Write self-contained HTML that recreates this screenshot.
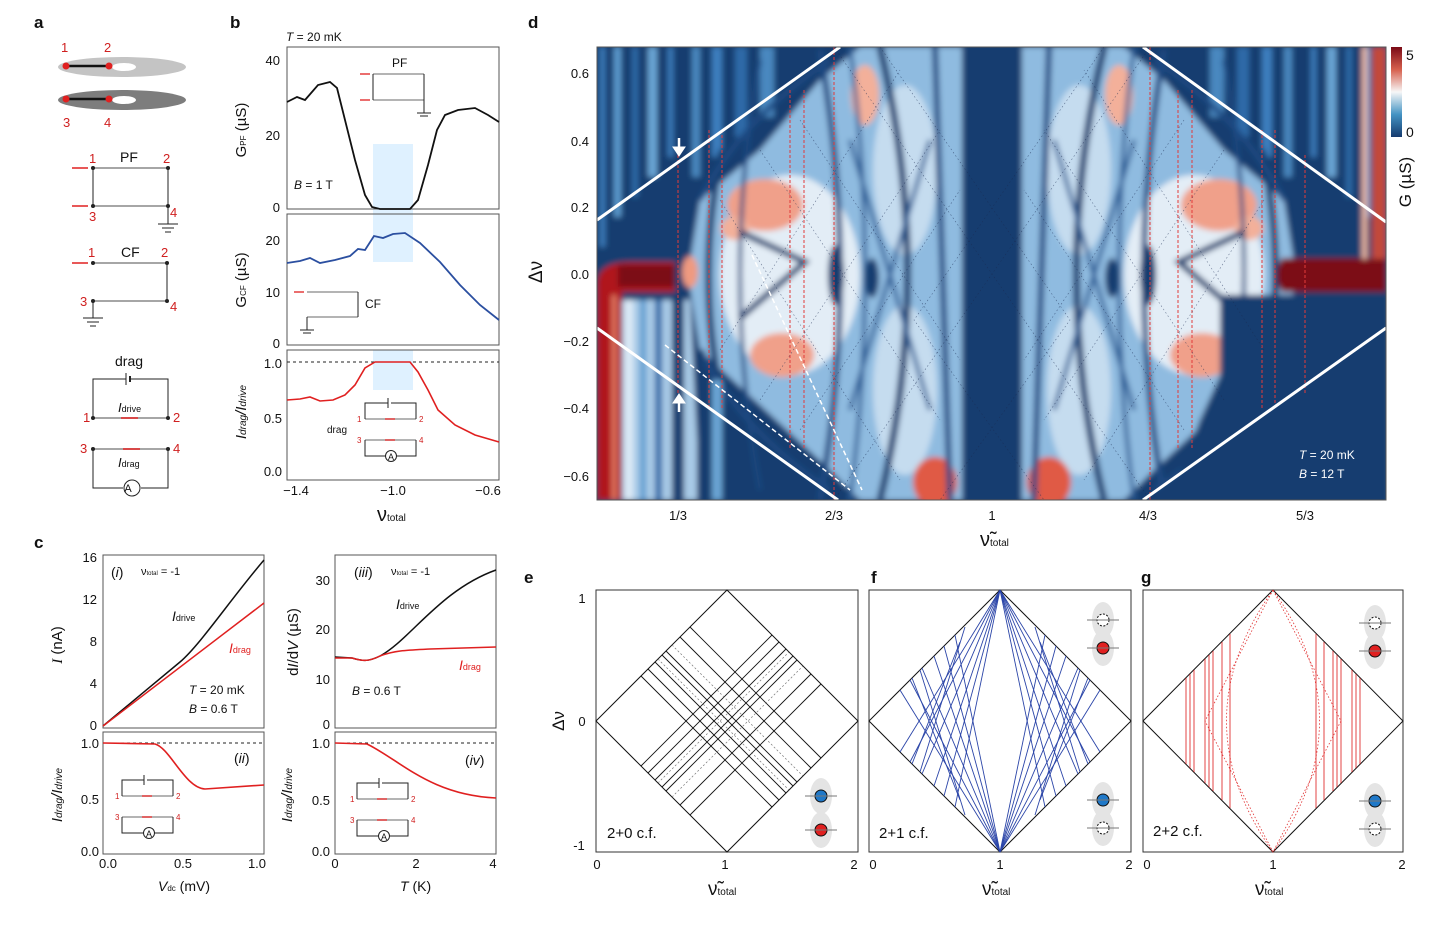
<!DOCTYPE html>
<html><head><meta charset="utf-8"><style>
html,body{margin:0;padding:0;background:#fff}
svg{display:block}
text{font-family:"Liberation Sans",sans-serif;fill:#111}
</style></head><body>
<svg width="1447" height="928" viewBox="0 0 1447 928" xmlns="http://www.w3.org/2000/svg">
<defs>
<filter id="bl" x="-5%" y="-5%" width="110%" height="110%"><feGaussianBlur stdDeviation="3"/></filter>
<clipPath id="cd"><rect x="597" y="47" width="789" height="453"/></clipPath>
<linearGradient id="cb" x1="0" y1="0" x2="0" y2="1">
<stop offset="0" stop-color="#7a0a16"/><stop offset="0.25" stop-color="#d6604d"/><stop offset="0.5" stop-color="#f7f7f7"/><stop offset="0.75" stop-color="#4393c3"/><stop offset="1" stop-color="#153a6e"/></linearGradient>
<g id="lefthalf">
  <rect x="600" y="47" width="5" height="200" fill="#3d7fbf"/>
  <rect x="614" y="47" width="7" height="170" fill="#5b9bd0"/>
  <rect x="632" y="47" width="6" height="150" fill="#2e6aa8"/>
  <rect x="648" y="47" width="9" height="130" fill="#6aa6d6"/>
  <rect x="668" y="47" width="5" height="110" fill="#3d7fbf"/>
  <rect x="692" y="47" width="8" height="130" fill="#4a88c0"/>
  <rect x="712" y="47" width="10" height="110" fill="#3d7fbf"/>
  <rect x="735" y="47" width="12" height="90" fill="#2e6aa8"/>
  <rect x="760" y="47" width="14" height="70" fill="#4a88c0"/>
  <polygon points="700,200 760,150 820,80 860,47 962,47 962,500 860,500 830,470 760,405 700,350 688,275" fill="#8fbbe0"/>
  <ellipse cx="790" cy="275" rx="70" ry="100" fill="#e3edf6"/>
  <ellipse cx="905" cy="170" rx="32" ry="85" fill="#c5dcef"/>
  <ellipse cx="905" cy="390" rx="32" ry="85" fill="#c5dcef"/>
  <ellipse cx="765" cy="205" rx="38" ry="26" fill="#f0a08a"/>
  <ellipse cx="735" cy="228" rx="14" ry="12" fill="#f3b09a"/>
  <ellipse cx="782" cy="355" rx="32" ry="22" fill="#f0a08a"/>
  <ellipse cx="865" cy="95" rx="14" ry="30" fill="#f3b09a"/>
  <ellipse cx="935" cy="482" rx="22" ry="25" fill="#e05a45"/>
  <path d="M722,150 Q695,275 722,400" stroke="#163c6f" stroke-width="7" fill="none"/>
  <path d="M760,60 Q720,275 760,490" stroke="#1d4a82" stroke-width="4" fill="none"/>
  <path d="M820,50 Q860,275 820,500" stroke="#1d4a82" stroke-width="6" fill="none"/>
  <path d="M850,47 Q880,275 850,500" stroke="#2a5d96" stroke-width="4" fill="none"/>
  <path d="M880,47 Q935,275 880,500" stroke="#163c6f" stroke-width="7" fill="none"/>
  <path d="M935,47 L950,500" stroke="#1d4a82" stroke-width="6" fill="none"/>
  <path d="M850,140 L930,410 M850,410 L930,140" stroke="#2a5d96" stroke-width="4" fill="none"/>
  <ellipse cx="836" cy="275" rx="8" ry="30" fill="#163c6f"/>
  <ellipse cx="872" cy="278" rx="7" ry="20" fill="#163c6f"/>
  <path d="M740,232 L805,262 L740,318" stroke="#163c6f" stroke-width="6" fill="none"/>
  <path d="M700,200 Q740,120 830,60" stroke="#1d4a82" stroke-width="5" fill="none"/>
  <path d="M700,350 Q740,430 830,490" stroke="#1d4a82" stroke-width="5" fill="none"/>
</g>
</defs>

<!-- panel labels -->
<g font-weight="bold" font-size="17">
<text x="34" y="28">a</text><text x="230" y="28">b</text><text x="528" y="28">d</text>
<text x="34" y="548">c</text><text x="524" y="583">e</text><text x="871" y="583">f</text><text x="1141" y="583">g</text></g>

<!-- PANEL A -->
<ellipse cx="122" cy="67" rx="64" ry="10" fill="#c4c4c4"/><ellipse cx="124" cy="67" rx="12" ry="4" fill="#fff"/>
<ellipse cx="122" cy="100" rx="64" ry="10" fill="#7d7d7d"/><ellipse cx="124" cy="100" rx="12" ry="4" fill="#fff"/>
<line x1="66" y1="66" x2="109" y2="66" stroke="#111" stroke-width="2.5"/><line x1="66" y1="99" x2="109" y2="99" stroke="#111" stroke-width="2.5"/>
<g fill="#e02020"><circle cx="66" cy="66" r="3.5"/><circle cx="109" cy="66" r="3.5"/><circle cx="66" cy="99" r="3.5"/><circle cx="109" cy="99" r="3.5"/></g>
<g font-size="13">
<text x="61" y="52" style="fill:#d02020">1</text><text x="104" y="52" style="fill:#d02020">2</text><text x="63" y="127" style="fill:#d02020">3</text><text x="104" y="127" style="fill:#d02020">4</text>
<text x="89" y="163" style="fill:#d02020">1</text><text x="163" y="163" style="fill:#d02020">2</text><text x="89" y="221" style="fill:#d02020">3</text><text x="170" y="217" style="fill:#d02020">4</text>
<text x="88" y="257" style="fill:#d02020">1</text><text x="161" y="257" style="fill:#d02020">2</text><text x="80" y="306" style="fill:#d02020">3</text><text x="170" y="311" style="fill:#d02020">4</text>
<text x="83" y="422" style="fill:#d02020">1</text><text x="173" y="422" style="fill:#d02020">2</text><text x="80" y="453" style="fill:#d02020">3</text><text x="173" y="453" style="fill:#d02020">4</text></g>
<g stroke="#888" stroke-width="1.5" fill="none">
<line x1="93" y1="168" x2="168" y2="168"/><line x1="93" y1="206" x2="168" y2="206"/>
<line x1="93" y1="263" x2="167" y2="263"/><line x1="93" y1="301" x2="167" y2="301"/>
<line x1="93" y1="418" x2="168" y2="418"/><line x1="93" y1="449" x2="168" y2="449"/></g>
<g stroke="#222" stroke-width="1" fill="none">
<line x1="93" y1="168" x2="93" y2="206"/><line x1="168" y1="168" x2="168" y2="224"/><line x1="158" y1="224" x2="178" y2="224"/><line x1="162" y1="228" x2="174" y2="228"/><line x1="165" y1="232" x2="171" y2="232"/>
<line x1="167" y1="263" x2="167" y2="301"/><line x1="93" y1="301" x2="93" y2="318"/><line x1="83" y1="318" x2="103" y2="318"/><line x1="87" y1="322" x2="99" y2="322"/><line x1="90" y1="326" x2="96" y2="326"/>
<path d="M93,418 V379 H126 M130,379 H168 V418"/><line x1="126" y1="373" x2="126" y2="385"/><line x1="130" y1="376" x2="130" y2="382" stroke-width="2"/>
<path d="M93,449 V488 H123 M141,488 H168 V449"/><circle cx="132" cy="488" r="8"/></g>
<text x="128" y="492" font-size="11" text-anchor="middle">A</text>
<g fill="#222"><circle cx="93" cy="168" r="2"/><circle cx="168" cy="168" r="2"/><circle cx="93" cy="206" r="2"/><circle cx="168" cy="206" r="2"/><circle cx="93" cy="263" r="2"/><circle cx="167" cy="263" r="2"/><circle cx="93" cy="301" r="2"/><circle cx="167" cy="301" r="2"/><circle cx="93" cy="418" r="2"/><circle cx="168" cy="418" r="2"/><circle cx="93" cy="449" r="2"/><circle cx="168" cy="449" r="2"/></g>
<g stroke="#e02020" stroke-width="1.5"><line x1="72" y1="168" x2="88" y2="168"/><line x1="72" y1="206" x2="88" y2="206"/><line x1="72" y1="263" x2="88" y2="263"/><line x1="121" y1="418" x2="138" y2="418"/><line x1="123" y1="449" x2="140" y2="449"/></g>
<text x="120" y="162" font-size="14">PF</text><text x="121" y="257" font-size="14">CF</text><text x="115" y="366" font-size="14">drag</text>
<text x="118" y="412" font-size="13" font-style="italic" font-family="Liberation Serif">I<tspan font-size="9" font-style="normal" font-family="Liberation Sans">drive</tspan></text>
<text x="118" y="467" font-size="13" font-style="italic" font-family="Liberation Serif">I<tspan font-size="9" font-style="normal" font-family="Liberation Sans">drag</tspan></text>

<!-- PANEL B -->
<text x="286" y="41" font-size="12"><tspan font-style="italic">T</tspan> = 20 mK</text>
<rect x="373" y="144" width="40" height="118" fill="#dcefff" opacity="0.9"/>
<rect x="373" y="350" width="40" height="40" fill="#dcefff" opacity="0.9"/>
<g stroke="#555" fill="none" stroke-width="1"><rect x="287" y="47" width="212" height="162"/><rect x="287" y="214" width="212" height="131"/><rect x="287" y="350" width="212" height="130"/></g>
<line x1="287" y1="362" x2="499" y2="362" stroke="#222" stroke-dasharray="3,3"/>
<g font-size="13" text-anchor="end"><text x="280" y="65">40</text><text x="280" y="140">20</text><text x="280" y="212">0</text>
<text x="280" y="245">20</text><text x="280" y="297">10</text><text x="280" y="348">0</text>
<text x="282" y="368">1.0</text><text x="282" y="423">0.5</text><text x="282" y="476">0.0</text></g>
<g font-size="13" text-anchor="middle"><text x="296" y="495">−1.4</text><text x="393" y="495">−1.0</text><text x="488" y="495">−0.6</text></g>
<text x="377" y="521" font-size="20" font-family="Liberation Serif">ν<tspan font-size="10" font-family="Liberation Sans">total</tspan></text>
<text transform="translate(246,130) rotate(-90)" font-size="15" text-anchor="middle">G<tspan font-size="8">PF</tspan> (µS)</text>
<text transform="translate(246,280) rotate(-90)" font-size="15" text-anchor="middle">G<tspan font-size="8">CF</tspan> (µS)</text>
<text transform="translate(246,412) rotate(-90)" font-size="15" text-anchor="middle" font-style="italic" font-family="Liberation Serif">I<tspan font-size="10">drag</tspan>/I<tspan font-size="10">drive</tspan></text>
<text x="294" y="189" font-size="12"><tspan font-style="italic">B</tspan> = 1 T</text>
<polyline fill="none" stroke="#111" stroke-width="1.8" points="287,102 297,97 305,100 318,85 330,82 337,88 345,120 355,160 365,195 372,207 380,209 410,209 418,200 428,165 437,130 445,115 458,110 475,108 488,115 499,122"/>
<polyline fill="none" stroke="#2b4fa0" stroke-width="1.8" points="287,263 300,261 310,258 320,263 335,260 350,256 358,249 365,250 374,236 383,238 393,234 405,233 420,243 440,262 460,285 480,305 499,320"/>
<polyline fill="none" stroke="#e02020" stroke-width="1.6" points="287,400 300,399 310,397 320,401 333,400 345,395 355,385 365,368 375,362 410,362 418,372 428,390 438,410 455,425 475,435 499,442"/>
<g stroke="#888" stroke-width="1.2" fill="none"><line x1="373" y1="74" x2="424" y2="74"/><line x1="373" y1="100" x2="424" y2="100"/><line x1="307" y1="292" x2="358" y2="292"/><line x1="307" y1="317" x2="358" y2="317"/><line x1="365" y1="419" x2="416" y2="419"/><line x1="365" y1="440" x2="416" y2="440"/></g>
<g stroke="#222" fill="none"><line x1="373" y1="74" x2="373" y2="100"/><line x1="424" y1="74" x2="424" y2="113"/><line x1="417" y1="113" x2="431" y2="113"/><line x1="420" y1="116" x2="428" y2="116"/>
<line x1="358" y1="292" x2="358" y2="317"/><line x1="307" y1="317" x2="307" y2="330"/><line x1="300" y1="330" x2="314" y2="330"/><line x1="303" y1="333" x2="311" y2="333"/>
<path d="M365,419 V403 H388 M391,403 H416 V419"/><line x1="388" y1="398" x2="388" y2="408"/><path d="M365,440 V456 H386 M397,456 H416 V440"/><circle cx="391" cy="456" r="5.5"/></g>
<text x="391" y="460" font-size="9" text-anchor="middle">A</text>
<g stroke="#e02020" stroke-width="1.3"><line x1="360" y1="74" x2="370" y2="74"/><line x1="360" y1="100" x2="370" y2="100"/><line x1="294" y1="292" x2="304" y2="292"/><line x1="385" y1="419" x2="395" y2="419"/><line x1="385" y1="440" x2="395" y2="440"/></g>
<text x="392" y="67" font-size="12">PF</text><text x="365" y="308" font-size="12">CF</text><text x="327" y="433" font-size="10">drag</text>
<g font-size="8"><text x="357" y="422" style="fill:#d02020">1</text><text x="419" y="422" style="fill:#d02020">2</text><text x="357" y="443" style="fill:#d02020">3</text><text x="419" y="443" style="fill:#d02020">4</text></g>

<!-- PANEL C -->
<g stroke="#555" fill="none"><rect x="103" y="555" width="161" height="173"/><rect x="103" y="732" width="161" height="122"/><rect x="335" y="555" width="161" height="173"/><rect x="335" y="732" width="161" height="122"/></g>
<line x1="103" y1="743" x2="264" y2="743" stroke="#222" stroke-dasharray="3,3"/><line x1="335" y1="743" x2="496" y2="743" stroke="#222" stroke-dasharray="3,3"/>
<g font-size="13" text-anchor="end"><text x="97" y="562">16</text><text x="97" y="604">12</text><text x="97" y="646">8</text><text x="97" y="688">4</text><text x="97" y="730">0</text>
<text x="99" y="748">1.0</text><text x="99" y="804">0.5</text><text x="99" y="856">0.0</text>
<text x="330" y="585">30</text><text x="330" y="634">20</text><text x="330" y="684">10</text><text x="330" y="729">0</text>
<text x="330" y="748">1.0</text><text x="330" y="805">0.5</text><text x="330" y="856">0.0</text></g>
<g font-size="13" text-anchor="middle"><text x="108" y="868">0.0</text><text x="183" y="868">0.5</text><text x="257" y="868">1.0</text><text x="335" y="868">0</text><text x="416" y="868">2</text><text x="493" y="868">4</text></g>
<text x="158" y="891" font-size="14"><tspan font-style="italic">V</tspan><tspan font-size="8">dc</tspan> (mV)</text>
<text x="400" y="891" font-size="14"><tspan font-style="italic">T</tspan> (K)</text>
<text transform="translate(62,645) rotate(-90)" font-size="15" text-anchor="middle"><tspan font-style="italic" font-family="Liberation Serif">I</tspan> (nA)</text>
<text transform="translate(298,642) rotate(-90)" font-size="15" text-anchor="middle">d<tspan font-style="italic">I</tspan>/d<tspan font-style="italic">V</tspan> (µS)</text>
<text transform="translate(62,795) rotate(-90)" font-size="15" text-anchor="middle" font-style="italic" font-family="Liberation Serif">I<tspan font-size="10">drag</tspan>/I<tspan font-size="10">drive</tspan></text>
<text transform="translate(292,795) rotate(-90)" font-size="15" text-anchor="middle" font-style="italic" font-family="Liberation Serif">I<tspan font-size="10">drag</tspan>/I<tspan font-size="10">drive</tspan></text>
<text x="111" y="577" font-size="14" font-family="Liberation Serif">(<tspan font-style="italic">i</tspan>)</text>
<text x="141" y="575" font-size="11">ν<tspan font-size="6">total</tspan> = -1</text>
<text x="354" y="577" font-size="14" font-family="Liberation Serif">(<tspan font-style="italic">iii</tspan>)</text>
<text x="391" y="575" font-size="11">ν<tspan font-size="6">total</tspan> = -1</text>
<text x="234" y="763" font-size="14" font-family="Liberation Serif">(<tspan font-style="italic">ii</tspan>)</text>
<text x="465" y="765" font-size="14" font-family="Liberation Serif">(<tspan font-style="italic">iv</tspan>)</text>
<text x="189" y="694" font-size="12"><tspan font-style="italic">T</tspan> = 20 mK</text><text x="189" y="713" font-size="12"><tspan font-style="italic">B</tspan> = 0.6 T</text>
<text x="352" y="695" font-size="12"><tspan font-style="italic">B</tspan> = 0.6 T</text>
<text x="172" y="621" font-size="14" font-style="italic" font-family="Liberation Serif">I<tspan font-size="9" font-style="normal" font-family="Liberation Sans">drive</tspan></text>
<text x="229" y="653" font-size="14" font-style="italic" font-family="Liberation Serif" style="fill:#e02020">I<tspan font-size="9" font-style="normal" font-family="Liberation Sans">drag</tspan></text>
<text x="396" y="609" font-size="14" font-style="italic" font-family="Liberation Serif">I<tspan font-size="9" font-style="normal" font-family="Liberation Sans">drive</tspan></text>
<text x="459" y="670" font-size="14" font-style="italic" font-family="Liberation Serif" style="fill:#e02020">I<tspan font-size="9" font-style="normal" font-family="Liberation Sans">drag</tspan></text>
<path d="M103,726 L180,662 C200,645 230,600 264,560" stroke="#111" stroke-width="1.5" fill="none"/>
<path d="M103,726 L264,603" stroke="#e02020" stroke-width="1.5" fill="none"/>
<path d="M103,743 L155,744 C170,748 185,788 205,789 L264,785" stroke="#e02020" stroke-width="1.6" fill="none"/>
<path d="M335,657 L352,658 C362,661 368,662 380,656 C410,640 440,590 496,570" stroke="#111" stroke-width="1.5" fill="none"/>
<path d="M335,658 L352,658 C362,661 368,662 380,656 C395,650 410,650 430,649 L496,647" stroke="#e02020" stroke-width="1.5" fill="none"/>
<path d="M335,743 L367,744 C400,760 430,795 496,798" stroke="#e02020" stroke-width="1.6" fill="none"/>
<g stroke="#888" stroke-width="1.2"><line x1="122" y1="796" x2="173" y2="796"/><line x1="122" y1="817" x2="173" y2="817"/><line x1="357" y1="799" x2="408" y2="799"/><line x1="357" y1="820" x2="408" y2="820"/></g>
<g stroke="#222" fill="none"><path d="M122,796 V780 H144 M147,780 H173 V796"/><line x1="144" y1="775" x2="144" y2="785"/><path d="M122,817 V833 H143 M155,833 H173 V817"/><circle cx="149" cy="833" r="5.5"/>
<path d="M357,799 V783 H379 M382,783 H408 V799"/><line x1="379" y1="778" x2="379" y2="788"/><path d="M357,820 V836 H378 M390,836 H408 V820"/><circle cx="384" cy="836" r="5.5"/></g>
<text x="149" y="837" font-size="9" text-anchor="middle">A</text><text x="384" y="840" font-size="9" text-anchor="middle">A</text>
<g stroke="#e02020" stroke-width="1.3"><line x1="142" y1="796" x2="152" y2="796"/><line x1="142" y1="817" x2="152" y2="817"/><line x1="377" y1="799" x2="387" y2="799"/><line x1="377" y1="820" x2="387" y2="820"/></g>
<g font-size="8"><text x="115" y="799" style="fill:#d02020">1</text><text x="176" y="799" style="fill:#d02020">2</text><text x="115" y="820" style="fill:#d02020">3</text><text x="176" y="820" style="fill:#d02020">4</text>
<text x="350" y="802" style="fill:#d02020">1</text><text x="411" y="802" style="fill:#d02020">2</text><text x="350" y="823" style="fill:#d02020">3</text><text x="411" y="823" style="fill:#d02020">4</text></g>

<!-- PANEL D heatmap -->
<g clip-path="url(#cd)">
<g filter="url(#bl)">
<rect x="590" y="40" width="800" height="470" fill="#163c6f"/>
<use href="#lefthalf"/>
<use href="#lefthalf" transform="translate(1984,0) scale(-1,1)"/>
<polygon points="600,300 690,300 700,500 600,500" fill="#a9cbe7"/>
<rect x="625" y="300" width="8" height="200" fill="#deebf6"/>
<rect x="640" y="300" width="6" height="200" fill="#5b9bd0"/>
<rect x="655" y="300" width="7" height="200" fill="#2e6aa8"/>
<rect x="672" y="300" width="12" height="200" fill="#163c6f"/>
<rect x="697" y="350" width="8" height="150" fill="#163c6f"/>
<rect x="712" y="380" width="10" height="120" fill="#6aa6d6"/>
<path d="M597,500 V285 Q597,262 630,262 H675 V292 H622 V500 Z" fill="#b0141e"/>
<rect x="612" y="295" width="4" height="205" fill="#e8826a"/>
<rect x="618" y="265" width="57" height="22" fill="#7c0a14"/>
<ellipse cx="690" cy="272" rx="8" ry="16" fill="#ef9a80"/>
<polygon points="1143,500 1386,328 1386,300 1250,310 1200,420 1170,500" fill="#163c6f"/>
<rect x="1220" y="295" width="170" height="210" fill="#163c6f"/>
<path d="M1282,258 H1386 V292 H1282 Q1272,275 1282,258Z" fill="#7c0a14"/>
<rect x="1372" y="47" width="14" height="212" fill="#c24a3a"/>
<rect x="1362" y="47" width="5" height="212" fill="#f0b8a0"/>
</g>
<g stroke="#e23a3a" stroke-width="1" stroke-dasharray="3,2">
<line x1="678" y1="155" x2="678" y2="395"/><line x1="709" y1="130" x2="709" y2="410"/><line x1="722" y1="130" x2="722" y2="410"/><line x1="790" y1="90" x2="790" y2="450"/><line x1="804" y1="90" x2="804" y2="450"/><line x1="834" y1="47" x2="834" y2="500"/>
<line x1="1150" y1="47" x2="1150" y2="500"/><line x1="1178" y1="90" x2="1178" y2="450"/><line x1="1192" y1="90" x2="1192" y2="450"/><line x1="1262" y1="130" x2="1262" y2="410"/><line x1="1275" y1="130" x2="1275" y2="410"/><line x1="1305" y1="155" x2="1305" y2="395"/></g>
<g stroke="#1a2a50" stroke-width="0.6" stroke-dasharray="1.5,2.5" fill="none" opacity="0.6">
<path d="M834,47 L992,274 L834,500 M1150,47 L992,274 L1150,500"/>
<path d="M880,47 L1070,320 L940,500 M1104,47 L914,320 L1044,500"/>
<path d="M760,150 L940,420 M1224,150 L1044,420 M760,400 L940,130 M1224,400 L1044,130"/>
<path d="M720,200 L900,480 M1264,200 L1084,480 M720,350 L900,70 M1264,350 L1084,70"/>
<path d="M800,120 L960,360 M1184,120 L1024,360 M800,430 L960,190 M1184,430 L1024,190"/></g>
<g stroke="#fff" stroke-width="1.5" stroke-dasharray="5,3"><line x1="752" y1="255" x2="862" y2="490"/><line x1="665" y1="345" x2="850" y2="490"/></g>
<g stroke="#fff" stroke-width="3"><line x1="597" y1="220" x2="840" y2="47"/><line x1="597" y1="328" x2="838" y2="500"/><line x1="1143" y1="47" x2="1386" y2="222"/><line x1="1143" y1="500" x2="1386" y2="328"/></g>
</g>
<g fill="#fff" stroke="#fff"><line x1="679" y1="138" x2="679" y2="150" stroke-width="2.5"/><polygon points="673,147 685,147 679,156"/><line x1="679" y1="400" x2="679" y2="412" stroke-width="2.5"/><polygon points="673,403 685,403 679,394"/></g>
<text x="1299" y="459" font-size="12" style="fill:#fff"><tspan font-style="italic">T</tspan> = 20 mK</text>
<text x="1299" y="478" font-size="12" style="fill:#fff"><tspan font-style="italic">B</tspan> = 12 T</text>
<rect x="597" y="47" width="789" height="453" fill="none" stroke="#555"/>
<rect x="1391" y="47" width="11" height="90" fill="url(#cb)"/>
<text x="1406" y="60" font-size="14">5</text><text x="1406" y="137" font-size="14">0</text>
<text transform="translate(1411,182) rotate(-90)" font-size="17" text-anchor="middle">G (µS)</text>
<g font-size="13" text-anchor="end"><text x="589" y="78">0.6</text><text x="589" y="146">0.4</text><text x="589" y="212">0.2</text><text x="589" y="279">0.0</text><text x="589" y="346">−0.2</text><text x="589" y="413">−0.4</text><text x="589" y="481">−0.6</text></g>
<g font-size="13" text-anchor="middle"><text x="678" y="520">1/3</text><text x="834" y="520">2/3</text><text x="992" y="520">1</text><text x="1148" y="520">4/3</text><text x="1305" y="520">5/3</text></g>
<text x="980" y="546" font-size="20" font-family="Liberation Serif">ν̃<tspan font-size="10" font-family="Liberation Sans">total</tspan></text>
<text transform="translate(542,272) rotate(-90)" font-size="19" text-anchor="middle">Δν</text>

<!-- PANELS E F G -->
<g stroke="#333" fill="none"><rect x="596" y="590" width="262" height="262"/><rect x="869" y="590" width="262" height="262"/><rect x="1143" y="590" width="260" height="262"/></g>
<g stroke="#111" fill="none" stroke-width="1">
<polygon points="727,590 858,721 727,852 596,721"/><polygon points="1000,590 1131,721 1000,852 869,721"/><polygon points="1273,590 1403,721 1273,852 1143,721"/></g>
<g stroke="#111" stroke-width="0.9">
<line x1="641" y1="676" x2="772" y2="807"/><line x1="648" y1="669" x2="779" y2="800"/><line x1="655" y1="662" x2="786" y2="793"/><line x1="662" y1="655" x2="793" y2="786"/><line x1="666" y1="651" x2="797" y2="782"/><line x1="680" y1="637" x2="811" y2="768"/><line x1="690" y1="627" x2="821" y2="758"/>
<line x1="641" y1="766" x2="772" y2="635"/><line x1="648" y1="773" x2="779" y2="642"/><line x1="655" y1="780" x2="786" y2="649"/><line x1="662" y1="787" x2="793" y2="656"/><line x1="666" y1="791" x2="797" y2="660"/><line x1="680" y1="805" x2="811" y2="674"/><line x1="690" y1="815" x2="821" y2="684"/></g>
<g stroke="#777" stroke-width="0.7" stroke-dasharray="2,2"><line x1="658" y1="659" x2="789" y2="790"/><line x1="672" y1="645" x2="803" y2="776"/><line x1="658" y1="783" x2="789" y2="652"/><line x1="672" y1="797" x2="803" y2="666"/></g>
<g stroke="#2b45a8" stroke-width="0.9">
<line x1="1000" y1="590" x2="900" y2="752"/><line x1="1000" y1="590" x2="910" y2="762"/><line x1="1000" y1="590" x2="922" y2="774"/><line x1="1000" y1="590" x2="934" y2="786"/><line x1="1000" y1="590" x2="944" y2="796"/><line x1="1000" y1="590" x2="955" y2="807"/>
<line x1="1000" y1="590" x2="1100" y2="752"/><line x1="1000" y1="590" x2="1090" y2="762"/><line x1="1000" y1="590" x2="1078" y2="774"/><line x1="1000" y1="590" x2="1066" y2="786"/><line x1="1000" y1="590" x2="1056" y2="796"/><line x1="1000" y1="590" x2="1045" y2="807"/>
<line x1="1000" y1="852" x2="900" y2="690"/><line x1="1000" y1="852" x2="910" y2="680"/><line x1="1000" y1="852" x2="922" y2="668"/><line x1="1000" y1="852" x2="934" y2="656"/><line x1="1000" y1="852" x2="944" y2="646"/><line x1="1000" y1="852" x2="955" y2="635"/>
<line x1="1000" y1="852" x2="1100" y2="690"/><line x1="1000" y1="852" x2="1090" y2="680"/><line x1="1000" y1="852" x2="1078" y2="668"/><line x1="1000" y1="852" x2="1066" y2="656"/><line x1="1000" y1="852" x2="1056" y2="646"/><line x1="1000" y1="852" x2="1045" y2="635"/>
<line x1="912" y1="678" x2="960" y2="800"/><line x1="920" y1="670" x2="965" y2="815"/><line x1="1088" y1="678" x2="1040" y2="800"/><line x1="1080" y1="670" x2="1035" y2="815"/>
<line x1="912" y1="764" x2="960" y2="642"/><line x1="920" y1="772" x2="965" y2="627"/><line x1="1088" y1="764" x2="1040" y2="642"/><line x1="1080" y1="772" x2="1035" y2="627"/></g>
<g stroke="#e03030" stroke-width="0.9">
<line x1="1186" y1="678" x2="1186" y2="764"/><line x1="1190" y1="674" x2="1190" y2="768"/><line x1="1194" y1="670" x2="1194" y2="772"/><line x1="1205" y1="659" x2="1205" y2="783"/><line x1="1209" y1="655" x2="1209" y2="787"/><line x1="1213" y1="651" x2="1213" y2="791"/><line x1="1222" y1="642" x2="1222" y2="800"/><line x1="1230" y1="634" x2="1230" y2="808"/>
<line x1="1360" y1="678" x2="1360" y2="764"/><line x1="1356" y1="674" x2="1356" y2="768"/><line x1="1352" y1="670" x2="1352" y2="772"/><line x1="1341" y1="659" x2="1341" y2="783"/><line x1="1337" y1="655" x2="1337" y2="787"/><line x1="1333" y1="651" x2="1333" y2="791"/><line x1="1324" y1="642" x2="1324" y2="800"/><line x1="1316" y1="634" x2="1316" y2="808"/></g>
<g stroke="#e03030" stroke-width="0.8" stroke-dasharray="1.5,2" fill="none"><path d="M1273,590 Q1180,721 1273,852 Q1366,721 1273,590"/><path d="M1273,590 L1205,721 L1273,852 L1341,721 Z"/></g>
<g><ellipse cx="821" cy="796" rx="11" ry="18" fill="#e4e4e4"/><circle cx="821" cy="796" r="6" fill="#1f78c8" stroke="#111"/><line x1="805" y1="796" x2="837" y2="796" stroke="#777"/>
<ellipse cx="821" cy="830" rx="11" ry="18" fill="#e4e4e4"/><circle cx="821" cy="830" r="6" fill="#e02020" stroke="#111"/><line x1="805" y1="830" x2="837" y2="830" stroke="#777"/>
<ellipse cx="1103" cy="620" rx="11" ry="18" fill="#e4e4e4"/><circle cx="1103" cy="620" r="6" fill="#fff" stroke="#111" stroke-dasharray="2,1.5"/><line x1="1087" y1="620" x2="1119" y2="620" stroke="#777"/>
<ellipse cx="1103" cy="648" rx="11" ry="18" fill="#e4e4e4"/><circle cx="1103" cy="648" r="6" fill="#e02020" stroke="#111"/><line x1="1087" y1="648" x2="1119" y2="648" stroke="#777"/>
<ellipse cx="1103" cy="800" rx="11" ry="18" fill="#e4e4e4"/><circle cx="1103" cy="800" r="6" fill="#1f78c8" stroke="#111"/><line x1="1087" y1="800" x2="1119" y2="800" stroke="#777"/>
<ellipse cx="1103" cy="828" rx="11" ry="18" fill="#e4e4e4"/><circle cx="1103" cy="828" r="6" fill="#fff" stroke="#111" stroke-dasharray="2,1.5"/><line x1="1087" y1="828" x2="1119" y2="828" stroke="#777"/>
<ellipse cx="1375" cy="623" rx="11" ry="18" fill="#e4e4e4"/><circle cx="1375" cy="623" r="6" fill="#fff" stroke="#111" stroke-dasharray="2,1.5"/><line x1="1359" y1="623" x2="1391" y2="623" stroke="#777"/>
<ellipse cx="1375" cy="651" rx="11" ry="18" fill="#e4e4e4"/><circle cx="1375" cy="651" r="6" fill="#e02020" stroke="#111"/><line x1="1359" y1="651" x2="1391" y2="651" stroke="#777"/>
<ellipse cx="1375" cy="801" rx="11" ry="18" fill="#e4e4e4"/><circle cx="1375" cy="801" r="6" fill="#1f78c8" stroke="#111"/><line x1="1359" y1="801" x2="1391" y2="801" stroke="#777"/>
<ellipse cx="1375" cy="829" rx="11" ry="18" fill="#e4e4e4"/><circle cx="1375" cy="829" r="6" fill="#fff" stroke="#111" stroke-dasharray="2,1.5"/><line x1="1359" y1="829" x2="1391" y2="829" stroke="#777"/></g>
<g font-size="15"><text x="607" y="838">2+0  c.f.</text><text x="879" y="838">2+1  c.f.</text><text x="1153" y="836">2+2  c.f.</text></g>
<g font-size="13" text-anchor="middle"><text x="582" y="603">1</text><text x="582" y="726">0</text><text x="579" y="850">-1</text>
<text x="597" y="869">0</text><text x="725" y="869">1</text><text x="854" y="869">2</text><text x="873" y="869">0</text><text x="1000" y="869">1</text><text x="1129" y="869">2</text><text x="1147" y="869">0</text><text x="1273" y="869">1</text><text x="1402" y="869">2</text></g>
<g font-size="19"><text x="708" y="895" font-family="Liberation Serif">ν̃<tspan font-size="10" font-family="Liberation Sans">total</tspan></text><text x="982" y="895" font-family="Liberation Serif">ν̃<tspan font-size="10" font-family="Liberation Sans">total</tspan></text><text x="1255" y="895" font-family="Liberation Serif">ν̃<tspan font-size="10" font-family="Liberation Sans">total</tspan></text></g>
<text transform="translate(564,721) rotate(-90)" font-size="17" text-anchor="middle">Δν</text>
</svg>
</body></html>
